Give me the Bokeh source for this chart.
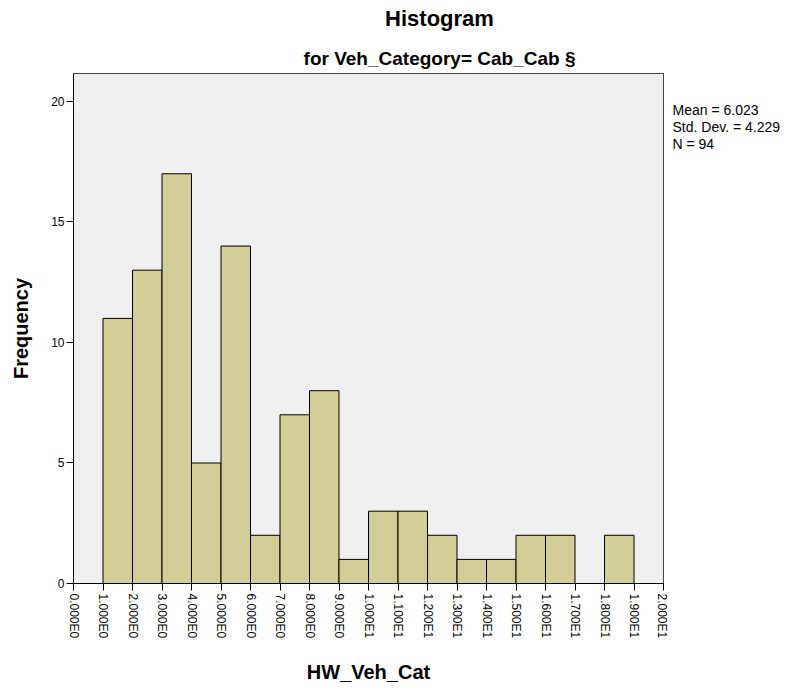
import math
from bokeh.plotting import figure
from bokeh.layouts import column, row
from bokeh.models import Range1d, FixedTicker
from bokeh.core.properties import value
from bokeh.embed import file_html
from bokeh.resources import INLINE

# ---- data ----
bin_left = [1, 2, 3, 4, 5, 6, 7, 8, 9, 10, 11, 12, 13, 14, 15, 16, 17, 18]
bin_right = [2, 3, 4, 5, 6, 7, 8, 9, 10, 11, 12, 13, 14, 15, 16, 17, 18, 19]
counts = [11, 13, 17, 5, 14, 2, 7, 8, 1, 3, 3, 2, 1, 1, 2, 2, 0, 2]

x_ticks = list(range(21))
x_tick_labels = ["0.000E0", "1.000E0", "2.000E0", "3.000E0", "4.000E0", "5.000E0",
                 "6.000E0", "7.000E0", "8.000E0", "9.000E0", "1.000E1", "1.100E1",
                 "1.200E1", "1.300E1", "1.400E1", "1.500E1", "1.600E1", "1.700E1",
                 "1.800E1", "1.900E1", "2.000E1"]
y_ticks = [0, 5, 10, 15, 20]

title_text = "Histogram"
subtitle_text = "for Veh_Category= Cab_Cab \u00a7"
stats_lines = ["Mean = 6.023", "Std. Dev. = 4.229", "N = 94"]
x_label = "HW_Veh_Cat"
y_label = "Frequency"

FONT = "Liberation Sans"

TOP_H = 72
MAIN_W, MAIN_H = 668, 618
STATS_W = 795 - MAIN_W


def blank(w, h):
    f = figure(width=w, height=h, x_range=Range1d(0, w), y_range=Range1d(h, 0),
               output_backend="svg", toolbar_location=None,
               x_axis_location=None, y_axis_location=None,
               min_border=0, min_border_left=0, min_border_right=0,
               min_border_top=0, min_border_bottom=0)
    f.outline_line_color = None
    f.background_fill_color = "white"
    f.border_fill_color = "white"
    f.xgrid.visible = False
    f.ygrid.visible = False
    return f


# ---- title strip ----
top = blank(795, TOP_H)
top.text(x=[439], y=[18], text=[title_text], text_align="center",
         text_baseline="middle", text_font=value(FONT),
         text_font_style="bold", text_font_size="22px", text_color="black")
top.text(x=[439], y=[58], text=[subtitle_text], text_align="center",
         text_baseline="middle", text_font=value(FONT),
         text_font_style="bold", text_font_size="19px", text_color="black")

# ---- main histogram ----
p = figure(width=MAIN_W, height=MAIN_H,
           x_range=Range1d(0, 20), y_range=Range1d(0, 21.16),
           output_backend="svg", toolbar_location=None,
           min_border_left=73, min_border_right=MAIN_W - 663,
           min_border_top=1, min_border_bottom=107)

p.background_fill_color = "#F0F0F0"
p.border_fill_color = "white"
p.outline_line_color = "#444444"
p.outline_line_width = 1
p.xgrid.visible = False
p.ygrid.visible = False

p.quad(left=bin_left, right=bin_right, top=counts, bottom=0,
       fill_color="#D3CE97", line_color="black", line_width=1)

xa = p.xaxis[0]
xa.ticker = FixedTicker(ticks=x_ticks)
xa.major_label_overrides = {t: l for t, l in zip(x_ticks, x_tick_labels)}
xa.major_label_orientation = -math.pi / 2
xa.major_label_text_font = FONT
xa.major_label_text_font_size = "12px"
xa.major_label_text_color = "black"
xa.major_label_standoff = 3
xa.major_tick_out = 7
xa.major_tick_in = 0
xa.minor_tick_line_color = None
xa.axis_line_color = "black"
xa.major_tick_line_color = "black"
xa.axis_label = x_label
xa.axis_label_text_font = FONT
xa.axis_label_text_font_style = "bold"
xa.axis_label_text_font_size = "20px"
xa.axis_label_text_color = "black"
xa.axis_label_standoff = 20

ya = p.yaxis[0]
ya.ticker = FixedTicker(ticks=y_ticks)
ya.major_label_text_font = FONT
ya.major_label_text_font_size = "12px"
ya.major_label_text_color = "black"
ya.major_label_standoff = 2
ya.major_tick_out = 7
ya.major_tick_in = 0
ya.minor_tick_line_color = None
ya.axis_line_color = "black"
ya.major_tick_line_color = "black"
ya.axis_label = y_label
ya.axis_label_text_font = FONT
ya.axis_label_text_font_style = "bold"
ya.axis_label_text_font_size = "20px"
ya.axis_label_text_color = "black"
ya.axis_label_standoff = 16

# ---- statistics box ----
stats = blank(STATS_W, MAIN_H)
stats.text(x=[4], y=[35], text=["\n".join(stats_lines)], text_align="left",
           text_baseline="top", text_font=value(FONT), text_line_height=1.05,
           text_font_size="14px", text_color="black")

layout = column(top, row(p, stats, spacing=0), spacing=0)
open("out.html", "w").write(file_html(layout, INLINE))
